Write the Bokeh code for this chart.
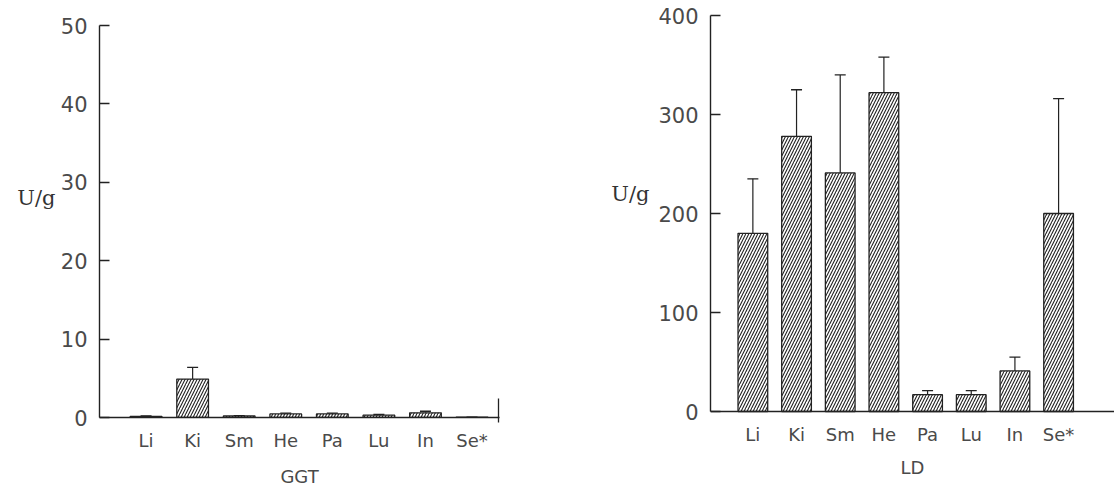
from bokeh.plotting import figure
from bokeh.models import Range1d, FixedTicker, Whisker, TeeHead, ColumnDataSource, LinearAxis, Span
from bokeh.layouts import row
from bokeh.embed import file_html
from bokeh.resources import INLINE

categories = ["Li", "Ki", "Sm", "He", "Pa", "Lu", "In", "Se*"]
ggt_mean = [0.15, 4.9, 0.2, 0.45, 0.45, 0.3, 0.6, 0.05]
ggt_sd = [0.05, 1.5, 0.05, 0.1, 0.1, 0.1, 0.2, 0.0]
ld_mean = [180, 278, 241, 322, 17, 17, 41, 200]
ld_sd = [55, 47, 99, 36, 4, 4, 14, 116]
ggt_ticks = [0, 10, 20, 30, 40, 50]
ld_ticks = [0, 100, 200, 300, 400]
unit_label = "U/g"

INK = "#222222"
TXT = "#4a4a4a"
SANS = "DejaVu Sans"
SERIF = "DejaVu Serif"


def panel(title, means, sds, yticks, x_rng, y_rng, width, borders, unit_y,
          unit_standoff, end_tick, label_standoff, title_standoff, baseline_span):
    xs = list(range(1, len(categories) + 1))
    p = figure(width=width, height=491, output_backend="svg", toolbar_location=None,
               x_range=Range1d(*x_rng), y_range=Range1d(*y_rng),
               min_border_left=borders[0], min_border_right=borders[1],
               min_border_top=borders[2], min_border_bottom=borders[3])
    p.outline_line_color = None
    p.grid.visible = False
    p.background_fill_color = "white"

    src = ColumnDataSource(dict(x=xs, top=means,
                                lower=means, upper=[m + s for m, s in zip(means, sds)]))
    p.vbar(x="x", top="top", bottom=0, width=0.68, source=src,
           fill_color="white", line_color=INK, line_width=1.3,
           hatch_pattern="/", hatch_color=INK, hatch_scale=6, hatch_weight=1.1)
    p.add_layout(Whisker(source=src, base="x", lower="lower", upper="upper",
                         dimension="height", lower_head=None,
                         upper_head=TeeHead(size=11, line_color=INK, line_width=1.3),
                         line_color=INK, line_width=1.2))

    # x axis
    xa = p.xaxis[0]
    xa.ticker = FixedTicker(ticks=xs, minor_ticks=[x_rng[1] - 0.02] if end_tick else [])
    xa.major_label_overrides = {x: c for x, c in zip(xs, categories)}
    xa.major_tick_line_color = None
    xa.minor_tick_in = 19
    xa.minor_tick_out = 5
    xa.minor_tick_line_color = INK
    xa.minor_tick_line_width = 1.3
    xa.axis_line_width = 1.4
    if baseline_span:
        xa.axis_line_color = None
        p.add_layout(Span(location=yticks[0], dimension="width",
                          line_color=INK, line_width=1.4))
    else:
        xa.axis_line_color = INK
    xa.major_label_text_font = SANS
    xa.major_label_text_font_size = "18px"
    xa.major_label_text_color = TXT
    xa.major_label_standoff = label_standoff
    xa.axis_label = title
    xa.axis_label_text_font = SANS
    xa.axis_label_text_font_style = "normal"
    xa.axis_label_text_font_size = "18px"
    xa.axis_label_text_color = TXT
    xa.axis_label_standoff = title_standoff

    # y axis
    ya = p.yaxis[0]
    ya.bounds = (yticks[0], yticks[-1])
    ya.ticker = FixedTicker(ticks=yticks)
    ya.major_tick_in = 10
    ya.major_tick_out = 0
    ya.major_tick_line_color = INK
    ya.major_tick_line_width = 1.3
    ya.minor_tick_line_color = None
    ya.axis_line_color = INK
    ya.axis_line_width = 1.4
    ya.major_label_text_font = SANS
    ya.major_label_text_font_size = "21px"
    ya.major_label_text_color = TXT
    ya.major_label_standoff = 12

    # unit label as a horizontal label beside the tick labels
    ua = LinearAxis(ticker=FixedTicker(ticks=[unit_y]),
                    major_label_overrides={unit_y: unit_label})
    ua.axis_line_color = None
    ua.major_tick_line_color = None
    ua.minor_tick_line_color = None
    ua.major_tick_out = 0
    ua.major_tick_in = 0
    ua.major_label_standoff = unit_standoff
    ua.major_label_text_font = SERIF
    ua.major_label_text_font_size = "21px"
    ua.major_label_text_color = "#333333"
    p.add_layout(ua, "left")
    return p


left = panel("GGT", ggt_mean, ggt_sd, ggt_ticks, (0, 8.59), (0, 51.28), 560,
             (99, 61, 15, 74), 28, 2, True, 6, 12, False)
right = panel("LD", ld_mean, ld_sd, ld_ticks, (0.03, 9.28), (-6.06, 400), 554,
              (150, 0, 15, 74), 220, 6, False, 0, 9, True)

layout = row(left, right)
open("out.html", "w").write(file_html(layout, INLINE))
